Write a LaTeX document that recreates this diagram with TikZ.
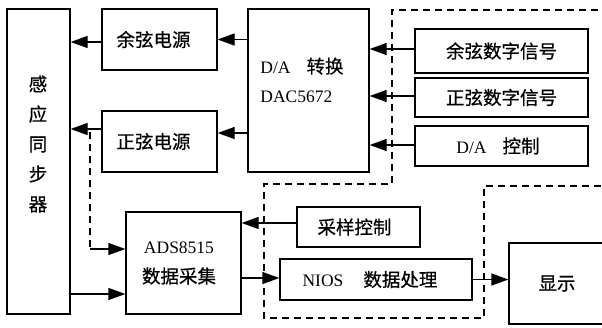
\documentclass[tikz,border=0pt]{standalone}
\usepackage{fontspec}
\setmainfont{Liberation Serif}
\newfontfamily\cjk[FakeBold=0.6]{Noto Sans CJK SC}
\usetikzlibrary{arrows.meta}
\newcommand{\zhtxt}[1]{{\cjk\fontsize{18.5}{20}\selectfont #1}}
\begin{document}
\begin{tikzpicture}[x=1pt,y=-1pt,
  box/.style={draw, line width=1.3pt, inner sep=0pt, font=\fontsize{17.5}{20}\selectfont},
  lbl/.style={inner sep=0pt, font=\fontsize{17.5}{20}\selectfont},
  arr/.style={line width=1.3pt, -{Triangle[length=17pt,width=12pt]}},
  dsh/.style={line width=1.2pt, dash pattern=on 7pt off 5pt}]
\useasboundingbox (0,0) rectangle (602,327);
\clip (0,0) rectangle (602,327);
\fill[white] (0,0) rectangle (602,327);

% boxes
\node[box, minimum width=63pt, minimum height=305pt] (sync) at (38.5,161.5) {};
\node[lbl, align=center, font=\cjk\fontsize{18.5}{30}\selectfont] (synctxt) at (38,144) {感\\应\\同\\步\\器};

\node[box, minimum width=115pt, minimum height=61pt] (cos) at (159.5,39.5) {\zhtxt{余弦电源}\hspace*{12pt}};
\node[box, minimum width=115pt, minimum height=61pt] (sin) at (159.5,141.5) {\zhtxt{正弦电源}\hspace*{12pt}};

\node[box, minimum width=121pt, minimum height=163pt] (dac) at (308.5,90.5) {};
\node[lbl, align=left, font=\fontsize{17.5}{29}\selectfont] (dactxt) at (302,80) {D/A\hspace{16pt}\zhtxt{转换}\\DAC5672};

\node[box, minimum width=173pt, minimum height=44pt] (cosd) at (501.5,51) {\zhtxt{余弦数字信号}};
\node[box, minimum width=173pt, minimum height=39pt] (sind) at (501.5,97.5) {\zhtxt{正弦数字信号}};
\node[box, minimum width=173pt, minimum height=40pt] (dactrl) at (501.5,146) {D/A\hspace{16pt}\zhtxt{控制}\hspace*{7pt}};

\node[box, minimum width=115pt, minimum height=102pt, align=center, font=\fontsize{17.5}{30}\selectfont] (ads) at (183.5,263) {ADS8515\hspace*{9pt}\\\zhtxt{数据采集}\hspace*{9pt}};
\node[box, minimum width=123pt, minimum height=40pt] (samp) at (358.5,227) {\zhtxt{采样控制}\hspace*{8pt}};
\node[box, minimum width=192pt, minimum height=41pt] (nios) at (376,279.5) {NIOS\hspace{20pt}\zhtxt{数据处理}\hspace*{12pt}};
\node[box, minimum width=96pt, minimum height=81pt] (disp) at (557,283.5) {\zhtxt{显示}};

% dashed region outline
\draw[dsh] (610,10) -- (392,10) -- (392,184) -- (264,184) -- (264,318) -- (484,318) -- (484,186) -- (610,186);

% connectors
\coordinate (cosA) at ([yshift=-2.5pt]cos.west);
\draw[arr] (cosA) -- (cosA -| sync.east);
\draw[arr] (dac.west |- cos.east) -- (cos.east);

\coordinate (sinA) at ([yshift=12.5pt]sin.west);
\draw[arr] (sinA) -- (sinA -| sync.east);
\coordinate (sinB) at ([yshift=8.5pt]sin.east);
\draw[arr] (sinB -| dac.west) -- (sinB);

\coordinate (cosdA) at ([yshift=2pt]cosd.west);
\draw[arr] (cosdA) -- (cosdA -| dac.east);
\coordinate (sindA) at ([yshift=1.5pt]sind.west);
\draw[arr] (sindA) -- (sindA -| dac.east);
\coordinate (dactrlA) at ([yshift=1pt]dactrl.west);
\draw[arr] (dactrlA) -- (dactrlA -| dac.east);

\coordinate (adsA) at ([yshift=14pt]ads.west);
\coordinate (tap) at (90,132);
\coordinate (tapb) at (tap |- adsA);
\draw[dsh] (tap) -- (tapb);
\draw[arr] (tapb) -- (adsA);
\coordinate (adsB) at ([yshift=-31pt]ads.west);
\draw[arr] (adsB -| sync.east) -- (adsB);

\coordinate (sampA) at ([yshift=4pt]samp.west);
\draw[arr] (sampA) -- (sampA -| ads.east);
\coordinate (niosA) at ([yshift=1.5pt]nios.west);
\draw[arr] (niosA -| ads.east) -- (niosA);
\draw[arr] (nios.east) -- (nios.east -| disp.west);
\end{tikzpicture}
\end{document}
